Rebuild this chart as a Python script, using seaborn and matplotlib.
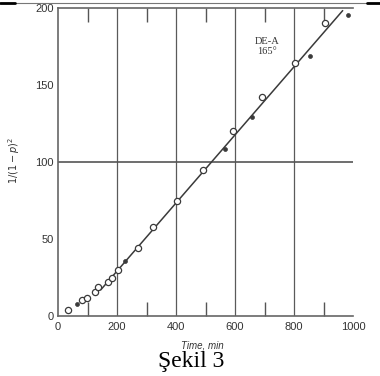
import matplotlib
matplotlib.use("Agg")
import matplotlib.pyplot as plt
from matplotlib.lines import Line2D
import pandas as pd
import seaborn as sns

# ---------------------------------------------
# DATA
# ---------------------------------------------
open_t = [35, 80, 97, 125, 134, 171, 184, 204, 272, 323, 402, 493, 594, 690, 803, 905]
open_y = [4, 10.4, 11.5, 15.8, 18.6, 22, 24.5, 30, 44, 58, 75, 95, 120, 142, 164.5, 190]
filled_t = [63, 227, 566, 656, 854, 984]
filled_y = [8, 36, 108.5, 129, 169, 195.5]
fit_t = [145, 965]
fit_y = [17, 198.3]

x_ticks = [0, 200, 400, 600, 800, 1000]
x_minor = [100, 300, 500, 700, 900]
y_ticks = [0, 50, 100, 150, 200]
grid_x = [200, 400, 600, 800]
grid_y = [100]

sns.set_style("white")
plt.rcParams["font.family"] = ["Liberation Sans", "DejaVu Sans"]

fig = plt.figure(figsize=(3.8, 3.76), dpi=100)
ax = fig.add_axes([58 / 380, 1 - 316 / 376, 295 / 380, 308 / 376])

ink = "#3a3a3a"
for gx in grid_x:
    ax.axvline(gx, color="#5a5a5a", lw=0.9, zorder=1)
for gy in grid_y:
    ax.axhline(gy, color="#555555", lw=1.2, zorder=1)

sns.lineplot(x=fit_t, y=fit_y, color=ink, lw=1.1, ax=ax, zorder=2)
sns.scatterplot(x=open_t, y=open_y, marker="o", s=20, facecolor="white",
                edgecolor=ink, linewidth=0.9, ax=ax, zorder=3)
sns.scatterplot(x=filled_t, y=filled_y, marker="o", s=8, color=ink,
                edgecolor=ink, linewidth=0.5, ax=ax, zorder=3)

ax.set_xlim(0, 1000)
ax.set_ylim(0, 200)
ax.set_xticks(x_ticks)
ax.set_xticks(x_minor, minor=True)
ax.set_yticks(y_ticks)
ax.tick_params(axis="x", which="major", direction="in", length=0, pad=4,
               labelsize=8, colors="#333333")
ax.tick_params(axis="x", which="minor", direction="in", length=10, width=1,
               top=True, bottom=True, color="#555555")
ax.tick_params(axis="y", which="major", direction="in", length=11, width=1,
               pad=3, labelsize=8, colors="#333333")

for side in ["left", "bottom", "top"]:
    ax.spines[side].set_color("#666666")
    ax.spines[side].set_linewidth(1.2)
ax.spines["right"].set_visible(False)

ax.set_xlabel("Time, min", fontsize=7, style="italic", color="#333333")
ax.xaxis.set_label_coords(0.49, -0.081)
ax.set_ylabel(r"$1/(1-p)^2$", fontsize=7, color="#333333")
ax.yaxis.set_label_coords(-0.122, 0.506)

ax.text(708, 175, "DE-A\n165°", fontsize=7.5, ha="center", va="center",
        color="#333333", linespacing=1.0, family="Liberation Serif")

# table border line at the top and caption
fig.add_artist(Line2D([0, 1], [1 - 3 / 376] * 2, color="#777777", lw=0.8))
fig.add_artist(Line2D([0, 15 / 380], [1 - 3 / 376] * 2, color="black", lw=2))
fig.add_artist(Line2D([367 / 380, 1], [1 - 3 / 376] * 2, color="black", lw=2))
fig.text(191 / 380, 1 - 361 / 376, "Şekil 3", fontsize=17, ha="center",
         va="center", family="Liberation Serif", color="black")

fig.savefig("out.png", dpi=100)
